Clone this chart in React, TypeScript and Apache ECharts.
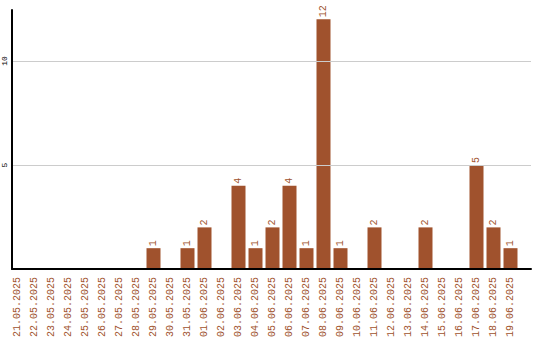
import React, { useEffect, useRef } from "react";
import * as echarts from "echarts";

const categories = [
  "21.05.2025", "22.05.2025", "23.05.2025", "24.05.2025", "25.05.2025",
  "26.05.2025", "27.05.2025", "28.05.2025", "29.05.2025", "30.05.2025",
  "31.05.2025", "01.06.2025", "02.06.2025", "03.06.2025", "04.06.2025",
  "05.06.2025", "06.06.2025", "07.06.2025", "08.06.2025", "09.06.2025",
  "10.06.2025", "11.06.2025", "12.06.2025", "13.06.2025", "14.06.2025",
  "15.06.2025", "16.06.2025", "17.06.2025", "18.06.2025", "19.06.2025",
];
const values = [0, 0, 0, 0, 0, 0, 0, 0, 1, 0, 1, 2, 0, 4, 1, 2, 4, 1, 12, 1, 0, 2, 0, 0, 2, 0, 0, 5, 2, 1];
const yInterval = 5;
const yMax = 12.45;

const BROWN = "#A0522D";
const FONT = "Liberation Mono";

export default function App() {
  const ref = useRef<HTMLDivElement>(null);
  useEffect(() => {
    if (!ref.current) return;
    const chart = echarts.init(ref.current, null, { renderer: "svg" });
    chart.setOption({
      animation: false,
      backgroundColor: "#ffffff",
      grid: [
        { left: 10, top: 10, width: 521, height: 259, containLabel: false },
        { left: 9, top: 10, width: 510, height: 259, containLabel: false },
      ],
      xAxis: [
        {
          type: "value",
          gridIndex: 0,
          min: 0,
          max: 1,
          axisLine: { show: true, lineStyle: { color: "#000", width: 2 } },
          axisTick: { show: false },
          axisLabel: { show: false },
          splitLine: { show: false },
          z: 5,
        },
        {
          type: "category",
          gridIndex: 1,
          data: categories,
          axisLine: { show: false },
          axisTick: { show: false },
          axisLabel: {
            interval: 0,
            rotate: 90,
            margin: 8,
            color: BROWN,
            fontFamily: FONT,
            fontSize: 10,
          },
        },
      ],
      yAxis: [
        {
          type: "value",
          gridIndex: 0,
          min: 0,
          max: yMax,
          interval: yInterval,
          axisLine: { show: true, lineStyle: { color: "#000", width: 2 } },
          axisTick: { show: false },
          splitLine: {
            show: true,
            lineStyle: {
              color: ["rgba(0,0,0,0)", "#cccccc", "#cccccc", "rgba(0,0,0,0)"],
              width: 1,
            },
          },
          axisLabel: {
            rotate: 90,
            margin: 4,
            align: "center",
            color: "#000",
            fontFamily: FONT,
            fontSize: 8,
            showMaxLabel: false,
            formatter: (v: number) => (v === 0 || v % yInterval !== 0 ? "" : String(v)),
          },
          z: 5,
        },
        {
          type: "value",
          gridIndex: 1,
          min: 0,
          max: yMax,
          show: false,
        },
      ],
      series: [
        {
          type: "bar",
          xAxisIndex: 1,
          yAxisIndex: 1,
          data: values,
          barWidth: 14,
          itemStyle: { color: BROWN },
          label: {
            show: true,
            position: "top",
            rotate: 90,
            align: "left",
            verticalAlign: "middle",
            distance: 2,
            color: BROWN,
            fontFamily: FONT,
            fontSize: 10,
            formatter: (p: any) => (p.value === 0 ? "" : String(p.value)),
          },
        },
      ],
    });
    return () => chart.dispose();
  }, []);
  return (
    <div
      ref={ref}
      style={{ position: "fixed", left: 0, top: 0, width: 540, height: 340, background: "#fff" }}
    />
  );
}
